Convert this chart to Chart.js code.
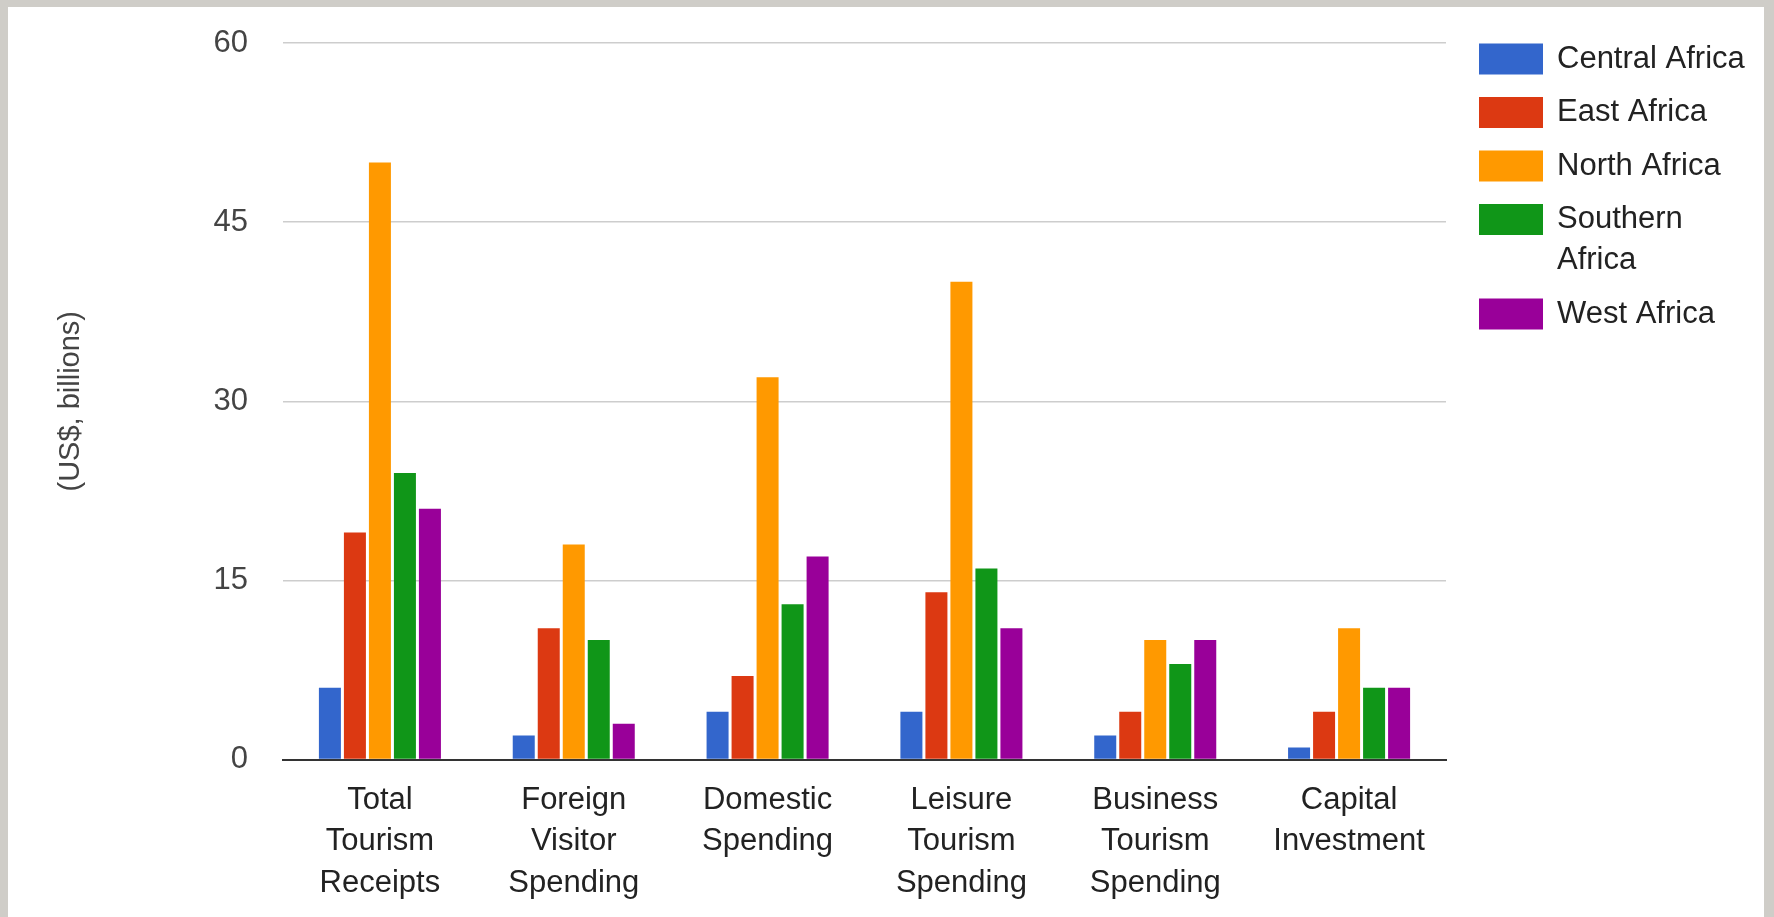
<!DOCTYPE html>
<html>
<head>
<meta charset="utf-8">
<title>Tourism spending by African region</title>
<script src="https://cdn.jsdelivr.net/npm/chart.js@4.4.0/dist/chart.umd.min.js"></script>
<style>
html,body{margin:0;padding:0;background:#cfcdc8;overflow:hidden}
#wrap{position:absolute;left:8px;top:7px;width:1756px;height:910px;background:#fff}
</style>
</head>
<body>
<div id="wrap"><canvas id="chart" width="1756" height="910"></canvas></div>
<script>
// categories (multi-line labels) and one array per region, US$ billions
let categories=[["Total","Tourism","Receipts"],["Foreign","Visitor","Spending"],["Domestic","Spending"],["Leisure","Tourism","Spending"],["Business","Tourism","Spending"],["Capital","Investment"]];
let regions=["Central Africa","East Africa","North Africa","Southern Africa","West Africa"];
let colors=["#3366cc","#dc3912","#ff9900","#109618","#990099"];
let centralAfrica=[6,2,4,4,2,1];
let eastAfrica=[19,11,7,14,4,4];
let northAfrica=[50,18,32,40,10,11];
let southernAfrica=[24,10,13,16,8,6];
let westAfrica=[21,3,17,11,10,6];
let yTicks=[0,15,30,45,60];
let yTitle="(US$, billions)";

Chart.defaults.font.family='"Liberation Sans", Arial, sans-serif';

// split a legend label into lines that fit maxW
function wrapText(ctx,text,maxW){
    let words=text.split(" "), lines=[], cur="";
    words.forEach(w=>{
        let t=cur?cur+" "+w:w;
        if(cur && ctx.measureText(t).width>maxW){lines.push(cur);cur=w;}
        else cur=t;
    });
    if(cur) lines.push(cur);
    return lines;
}

// legend on the right, labels wrap like the original
let sideLegend={
    id:'sideLegend',
    afterDraw(chart){
        let ctx=chart.ctx;
        ctx.save();
        ctx.font='31px "Liberation Sans", Arial, sans-serif';
        ctx.textBaseline='middle';
        ctx.textAlign='left';
        let boxX=1471, textX=1549, y=36.5, maxW=chart.width-textX-10;
        chart.data.datasets.forEach(ds=>{
            let lines=wrapText(ctx,ds.label,maxW);
            ctx.fillStyle=ds.backgroundColor;
            ctx.fillRect(boxX,y,64,31);
            ctx.fillStyle='#222';
            lines.forEach((l,i)=>ctx.fillText(l,textX,y+15.5+i*41));
            y+=53.5+(lines.length-1)*41;
        });
        ctx.restore();
    }
};

let series=[centralAfrica,eastAfrica,northAfrica,southernAfrica,westAfrica];
let ctx=document.getElementById('chart').getContext('2d');
let chart=new Chart(ctx,{
    type:'bar',
    data:{
        labels:categories,
        datasets:regions.map((r,i)=>({label:r,data:series[i],backgroundColor:colors[i],categoryPercentage:0.645,barPercentage:0.88}))
    },
    options:{
        responsive:false,
        animation:false,
        layout:{padding:{left:0,top:36,right:318,bottom:0}},
        plugins:{legend:{display:false},tooltip:{enabled:false}},
        scales:{
            x:{
                z:1,
                grid:{display:false,drawTicks:false},
                border:{display:true,color:'#333',width:2},
                ticks:{color:'#222',font:{size:31,lineHeight:1.34},padding:20,maxRotation:0,autoSkip:false},
                afterFit:s=>{s.height=157.5;}
            },
            y:{
                min:0,max:60,
                afterBuildTicks:s=>{s.ticks=yTicks.map(v=>({value:v}));},
                grid:{color:'#cdcdcd',lineWidth:1.5,drawTicks:false},
                border:{display:false},
                ticks:{color:'#444',font:{size:31},padding:35},
                title:{display:true,text:yTitle,color:'#444',font:{size:29},padding:{top:46,bottom:0}},
                // fixed axis width; tick padding should not push the plot down
                afterFit:s=>{s.width=275;s.paddingTop=18;s.paddingBottom=18;}
            }
        }
    },
    plugins:[sideLegend]
});
</script>
</body>
</html>
